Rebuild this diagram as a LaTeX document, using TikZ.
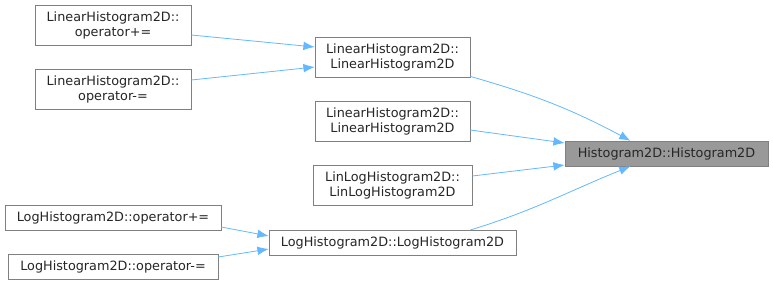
\documentclass[tikz,border=0pt]{standalone}
\usepackage{fontspec}
\setmainfont{DejaVu Sans}
\usetikzlibrary{arrows.meta}

\tikzset{
  fn/.style={draw=black!50, fill=white, inner sep=0pt, align=center,
    font=\fontsize{9.6}{11.25}\selectfont, text=black!85},
  fncur/.style={fn, fill=black!40},
  edge/.style={color={rgb,255:red,99;green,184;blue,255},
    -{Latex[length=8.5pt,width=6.5pt]}, line width=0.6pt}
}

\begin{document}
\begin{tikzpicture}[x=0.75pt, y=-0.75pt]
\useasboundingbox (0,0) rectangle (773,285);

% Fonction courante
\node[fncur, minimum width=203*0.75pt, minimum height=25*0.75pt] (hist) at (666.5,153.5) {Histogram2D::Histogram2D};

% Appelants directs
\node[fn, minimum width=155*0.75pt, minimum height=40*0.75pt] (lin1) at (392.5,57) {LinearHistogram2D::\\LinearHistogram2D};
\node[fn, minimum width=155*0.75pt, minimum height=40*0.75pt] (lin2) at (392.5,121) {LinearHistogram2D::\\LinearHistogram2D};
\node[fn, minimum width=159*0.75pt, minimum height=40*0.75pt] (linlog) at (392.5,185) {LinLogHistogram2D::\\LinLogHistogram2D};
\node[fn, minimum width=247*0.75pt, minimum height=25*0.75pt] (log) at (392.5,242.5) {LogHistogram2D::LogHistogram2D};

% Appelants de second niveau
\node[fn, minimum width=156*0.75pt, minimum height=40*0.75pt] (linplus) at (113,25) {LinearHistogram2D::\\operator+=};
\node[fn, minimum width=156*0.75pt, minimum height=40*0.75pt] (linminus) at (113,89) {LinearHistogram2D::\\operator-=};
\node[fn, minimum width=216*0.75pt, minimum height=25*0.75pt] (logplus) at (113,217.5) {LogHistogram2D::operator+=};
\node[fn, minimum width=210*0.75pt, minimum height=25*0.75pt] (logminus) at (113,266.5) {LogHistogram2D::operator-=};

% Appels
\draw[edge] (lin1.-14) to[out=-16, in=152] ([xshift=-27pt]hist.north);
\draw[edge] (lin2.east |- 0,130) -- (hist.west |- 0,143);
\draw[edge] (linlog.east |- 0,176) -- (hist.west |- 0,165);
\draw[edge] (log.east |- 0,230) ++(-46,0) to[out=17, in=-158] ([xshift=-27pt]hist.south);
\draw[edge] (linplus.east |- 0,35) -- (lin1.west |- 0,47);
\draw[edge] (linminus.east |- 0,80) -- (lin1.west |- 0,67);
\draw[edge] (logplus.east |- 0,227) -- (log.west |- 0,236);
\draw[edge] (logminus.east |- 0,257) -- (log.west |- 0,249);

\end{tikzpicture}
\end{document}
